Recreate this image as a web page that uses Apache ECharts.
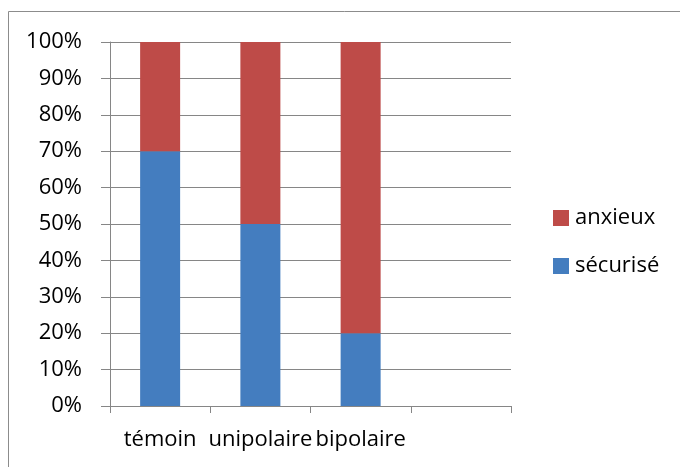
<!DOCTYPE html>
<html><head><meta charset="utf-8">
<script src="https://cdn.jsdelivr.net/npm/echarts@6/dist/echarts.min.js"></script>
<style>html,body{margin:0;padding:0;background:#fff}#c{width:680px;height:467px}</style>
</head><body><div id="c"></div>
<script>
const categories = ['témoin', 'unipolaire', 'bipolaire', ''];
const securise = [70, 50, 20, null];
const anxieux = [30, 50, 80, null];
const yTicks = [0, 10, 20, 30, 40, 50, 60, 70, 80, 90, 100];

const FONT = 'Open Sans';
const chart = echarts.init(document.getElementById('c'), null, {renderer: 'canvas'});
chart.setOption({
  animation: false,
  backgroundColor: '#fff',
  graphic: [{
    type: 'rect', shape: {x: 8.5, y: 11.5, width: 800, height: 600},
    style: {fill: 'none', stroke: '#8c8c8c', lineWidth: 1}, silent: true, z: -1
  }],
  grid: {left: 110, top: 42, right: 169, bottom: 61, containLabel: false},
  legend: {
    orient: 'vertical', left: 553, top: 207, padding: 0,
    itemWidth: 16, itemHeight: 16, itemGap: 26,
    icon: 'rect',
    data: ['anxieux', 'sécurisé'],
    textStyle: {fontFamily: FONT, fontSize: 22, color: '#000', padding: [0, 0, 0, 1]}
  },
  xAxis: {
    type: 'category', data: categories,
    axisLine: {lineStyle: {color: '#868686', width: 1}},
    axisTick: {show: true, length: 7, lineStyle: {color: '#868686'}},
    axisLabel: {fontFamily: FONT, fontSize: 22, color: '#000', margin: 23, interval: 0}
  },
  yAxis: {
    type: 'value', min: 0, max: 100, interval: 10,
    axisLine: {show: true, lineStyle: {color: '#868686', width: 1}},
    axisTick: {show: true, length: 9, lineStyle: {color: '#868686'}},
    splitLine: {lineStyle: {color: '#868686', width: 1}},
    axisLabel: {fontFamily: FONT, fontSize: 22, color: '#000', margin: 28,
      formatter: v => yTicks.includes(v) ? v + '%' : ''}
  },
  series: [
    {name: 'sécurisé', type: 'bar', stack: 's', data: securise, barWidth: 40,
     itemStyle: {color: '#447DBF'}},
    {name: 'anxieux', type: 'bar', stack: 's', data: anxieux, barWidth: 40,
     itemStyle: {color: '#BE4B48'}}
  ]
});
</script></body></html>
